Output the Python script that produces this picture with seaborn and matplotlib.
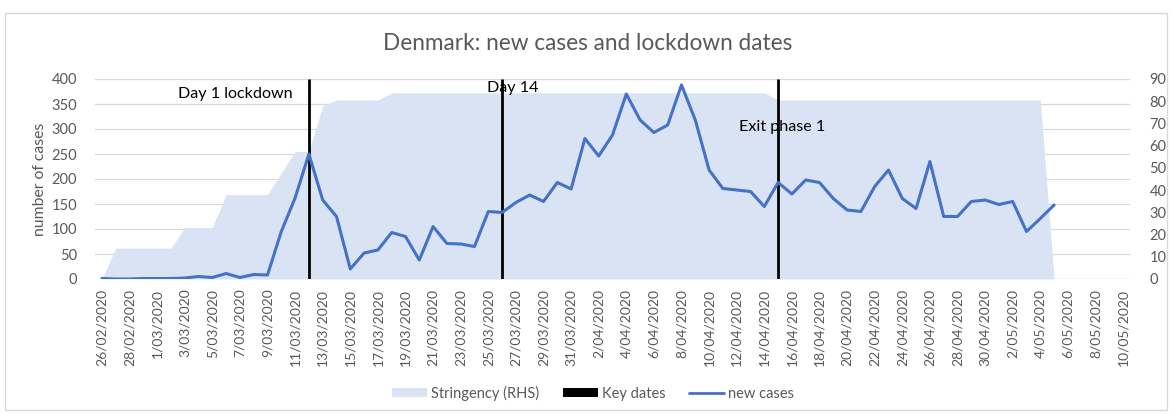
import matplotlib
matplotlib.use("Agg")
import matplotlib.pyplot as plt
from matplotlib.patches import Patch, Rectangle
from matplotlib.lines import Line2D
import seaborn as sns
import pandas as pd
import numpy as np

# daily data from 26/02/2020
dates = pd.date_range("2020-02-26", "2020-05-10", freq="D")

new_cases = [1, 0, 0, 1, 1, 1, 2, 5, 3, 11,
             3, 9, 8, 95, 162, 250, 158, 125, 20, 52,
             58, 93, 85, 38, 105, 71, 70, 65, 135, 133,
             153, 168, 155, 193, 180, 281, 246, 288, 370, 318,
             293, 308, 388, 318, 218, 181, 178, 175, 145, 193,
             170, 198, 193, 161, 138, 135, 185, 218, 161, 141,
             235, 125, 125, 155, 158, 149, 155, 95, 121, 148]

stringency = [0, 13.89, 13.89, 13.89, 13.89, 13.89, 23.15, 23.15, 23.15, 37.96,
              37.96, 37.96, 37.96, 47.7, 57.41, 57.41, 77.78, 80.56, 80.56, 80.56,
              80.56, 83.8, 83.8, 83.8, 83.8, 83.8, 83.8, 83.8, 83.8, 83.8,
              83.8, 83.8, 83.8, 83.8, 83.8, 83.8, 83.8, 83.8, 83.8, 83.8,
              83.8, 83.8, 83.8, 83.8, 83.8, 83.8, 83.8, 83.8, 83.8, 80.56,
              80.56, 80.56, 80.56, 80.56, 80.56, 80.56, 80.56, 80.56, 80.56, 80.56,
              80.56, 80.56, 80.56, 80.56, 80.56, 80.56, 80.56, 80.56, 80.56, 0]

key_dates = ["2020-03-12", "2020-03-26", "2020-04-15"]
key_labels = ["Day 1 lockdown", "Day 14", "Exit phase 1"]

grey = "#595959"
area_col = "#DAE3F3"
line_col = "#4472C4"

sns.set_style("white")
plt.rcParams["font.family"] = ["Lato", "DejaVu Sans"]

fig = plt.figure(figsize=(11.73, 4.15), dpi=100)
ax = fig.add_axes([95 / 1173, 136 / 415, 1035 / 1173, 200 / 415])
ax2 = ax.twinx()

df = pd.DataFrame({"day": np.arange(len(new_cases)), "cases": new_cases,
                   "stringency": stringency})

# stringency area on the right axis, drawn behind everything
ax2.fill_between(df["day"], 0, df["stringency"], color=area_col, lw=0, zorder=1)
ax2.set_ylim(0, 90)
ax2.set_yticks(range(0, 91, 10))
ax.set_zorder(ax2.get_zorder() + 1)
ax.patch.set_visible(False)

# grid and key date markers
ax.set_ylim(0, 400)
ax.set_yticks(range(0, 401, 50))
for y in range(50, 401, 50):
  ax2.axhline(y * 90 / 400, color="#D9D9D9", lw=0.9, zorder=0)
ax2.axhline(0, color="#D9D9D9", lw=1, zorder=0)

day_index = {d: i for i, d in enumerate(dates)}
key_idx = [day_index[pd.Timestamp(d)] for d in key_dates]
ax.vlines(key_idx, 0, 400, color="black", lw=2, zorder=2)

sns.lineplot(data=df, x="day", y="cases", ax=ax, color=line_col, lw=2.2, zorder=3)

# annotations for key dates
ax.text(key_idx[0] - 1.2, 370, key_labels[0], ha="right", va="center", fontsize=11.6, color="black")
ax.text(key_idx[1] - 1.1, 382, key_labels[1], ha="left", va="center", fontsize=11.6, color="black")
ax.text(key_idx[2] - 2.8, 304, key_labels[2], ha="left", va="center", fontsize=11.6, color="black")

ax.set_xlim(-0.5, 74.5)
ticks = list(range(0, len(dates), 2))
ax.set_xticks(ticks)
ax.set_xticklabels([f"{dates[i].day}/{dates[i].month:02d}/{dates[i].year}" for i in ticks],
                   rotation=90, fontsize=10, color=grey)
ax.tick_params(axis="x", length=0, pad=7)
ax.tick_params(axis="y", length=0, pad=13, labelsize=10.5, labelcolor=grey)
ax2.tick_params(axis="y", length=0, pad=14, labelsize=10.5, labelcolor=grey)
ax.set_xlabel("")
ax.set_ylabel("number of cases", fontsize=11.3, color=grey, labelpad=3)
for a in (ax, ax2):
  for s in a.spines.values():
    s.set_visible(False)

fig.text(588 / 1173, 1 - 44 / 415, "Denmark: new cases and lockdown dates",
         ha="center", va="center", fontsize=16.3, color=grey)

handles = [Patch(facecolor=area_col, edgecolor="none"),
           Patch(facecolor="black", edgecolor="none"),
           Line2D([0], [0], color=line_col, lw=2)]
fig.legend(handles, ["Stringency (RHS)", "Key dates", "new cases"], loc="center",
           bbox_to_anchor=(593 / 1173, 1 - 393 / 415), ncol=3, frameon=False,
           fontsize=10.5, labelcolor=grey, handlelength=2.4, handleheight=0.6,
           columnspacing=1.6, handletextpad=0.3)

fig.add_artist(Rectangle((5 / 1173, 5 / 415), 1162 / 1173, 397 / 415,
                         transform=fig.transFigure, fill=False, ec="#D9D9D9", lw=1))

fig.savefig("out.png", dpi=100)
